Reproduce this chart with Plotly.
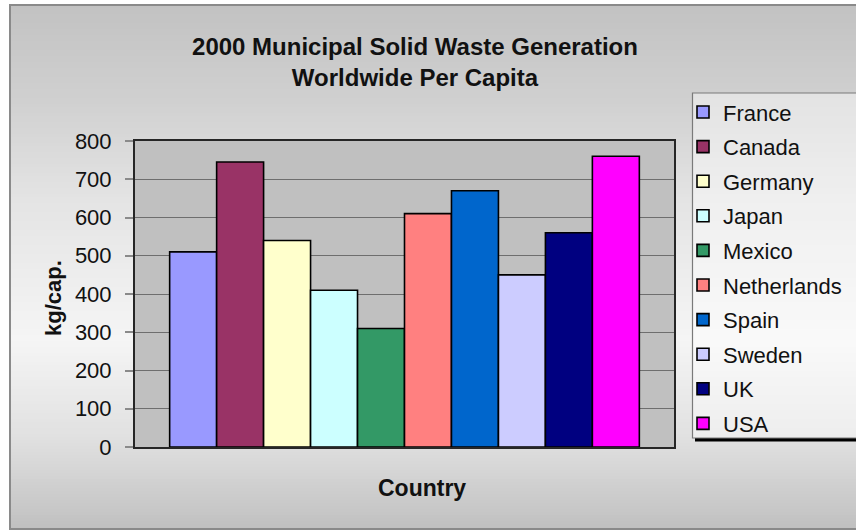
import plotly.graph_objects as go

# ---- data ----
countries = ["France", "Canada", "Germany", "Japan", "Mexico",
             "Netherlands", "Spain", "Sweden", "UK", "USA"]
kg_per_capita = [510, 745, 540, 410, 310, 610, 670, 450, 560, 760]
bar_colors = ["#9999FF", "#993366", "#FFFFCC", "#CCFFFF", "#339966",
              "#FF8080", "#0066CC", "#CCCCFF", "#000080", "#FF00FF"]
y_ticks = [0, 100, 200, 300, 400, 500, 600, 700, 800]
category = ["Country"]

# ---- page geometry (pixels) ----
W, H = 856, 532
PL, PR, PT, PB = 135, 674, 141, 447   # plot-area edges


def fx(px):
    return (px - PL) / (PR - PL)


def fy(py):
    return (PB - py) / (PB - PT)


FONT = "Arial, Liberation Sans, sans-serif"

fig = go.Figure()
for name, val, col in zip(countries, kg_per_capita, bar_colors):
    fig.add_trace(go.Bar(
        x=category, y=[val], name=name, legendgroup=name,
        marker=dict(color=col, line=dict(color="#000000", width=1.6)),
    ))

# ---- chart-area background: vertical grey gradient made of thin strips ----
stops = [(5, 194), (100, 208), (200, 228), (340, 245), (440, 224), (529, 192)]


def grey_at(py):
    for (y0, g0), (y1, g1) in zip(stops, stops[1:]):
        if y0 <= py <= y1:
            t = (py - y0) / (y1 - y0)
            return round(g0 + (g1 - g0) * t)
    return stops[-1][1]


shapes = []
step = 3
y = 5
while y < 529:
    y2 = min(y + step, 529)
    g = grey_at((y + y2) / 2)
    shapes.append(dict(type="rect", xref="paper", yref="paper", layer="below",
                       x0=fx(10), x1=fx(900), y0=fy(y), y1=fy(y2 + 0.6),
                       fillcolor=f"rgb({g},{g},{g})", line=dict(width=0)))
    y = y2

# chart frame
shapes.append(dict(type="rect", xref="paper", yref="paper", layer="below",
                   x0=fx(10), x1=fx(900), y0=fy(5), y1=fy(529),
                   fillcolor="rgba(0,0,0,0)", line=dict(color="#8a8a8a", width=2)))
# plot-area fill
shapes.append(dict(type="rect", xref="paper", yref="paper", layer="below",
                   x0=0, x1=1, y0=0, y1=1,
                   fillcolor="#c0c0c0", line=dict(width=0)))
# legend box and its shadow
shapes.append(dict(type="rect", xref="paper", yref="paper", layer="below",
                   x0=fx(695), x1=fx(900), y0=fy(438), y1=fy(441.5),
                   fillcolor="#000000", line=dict(width=0)))
shapes.append(dict(type="rect", xref="paper", yref="paper", layer="below",
                   x0=fx(692.5), x1=fx(900), y0=fy(93), y1=fy(438),
                   fillcolor="rgba(255,255,255,0.42)",
                   line=dict(color="#7a7a7a", width=1.2)))

annotations = [
    dict(text="<b>kg/cap.</b>", textangle=-90, xref="paper", yref="paper",
         x=fx(53), y=fy(298), xanchor="center", yanchor="middle", showarrow=False,
         font=dict(family=FONT, size=22, color="#111111")),
    dict(text="<b>Country</b>", xref="paper", yref="paper",
         x=fx(422), y=fy(488), xanchor="center", yanchor="middle", showarrow=False,
         font=dict(family=FONT, size=23, color="#111111")),
]

fig.update_layout(
    width=W, height=H,
    margin=dict(l=PL, r=W - PR, t=PT, b=H - PB, autoexpand=False),
    paper_bgcolor="#ffffff",
    plot_bgcolor="rgba(0,0,0,0)",
    barmode="group",
    bargap=0.1286,
    bargroupgap=0,
    font=dict(family=FONT, color="#111111"),
    title=dict(text="<b>2000 Municipal Solid Waste Generation<br>Worldwide Per Capita</b>",
               xref="container", yref="container",
               x=415 / W, y=1 - 55 / H, xanchor="center", yanchor="middle",
               font=dict(family=FONT, size=24, color="#111111")),
    xaxis=dict(type="category", range=[-0.5, 0.5], showticklabels=False,
               ticks="", showgrid=False, showline=True, mirror=True,
               linecolor="#262626", linewidth=2, fixedrange=True),
    yaxis=dict(range=[0, 800], tickvals=y_ticks, ticks="outside", ticklen=8,
               tickcolor="#8a8a8a", tickwidth=1.5, ticklabelstandoff=9,
               tickfont=dict(family=FONT, size=22, color="#111111"),
               showgrid=True, gridcolor="#6e6e6e", gridwidth=1.3,
               zeroline=False, showline=True, mirror=True,
               linecolor="#262626", linewidth=2),
    legend=dict(x=fx(683), y=fy(91.2), xanchor="left", yanchor="top",
                bgcolor="rgba(0,0,0,0)", borderwidth=0, maxheight=440,
                tracegroupgap=3, traceorder="grouped",
                font=dict(family=FONT, size=22, color="#111111")),
    shapes=shapes,
    annotations=annotations,
    showlegend=True,
)

fig.write_html("out.html")
